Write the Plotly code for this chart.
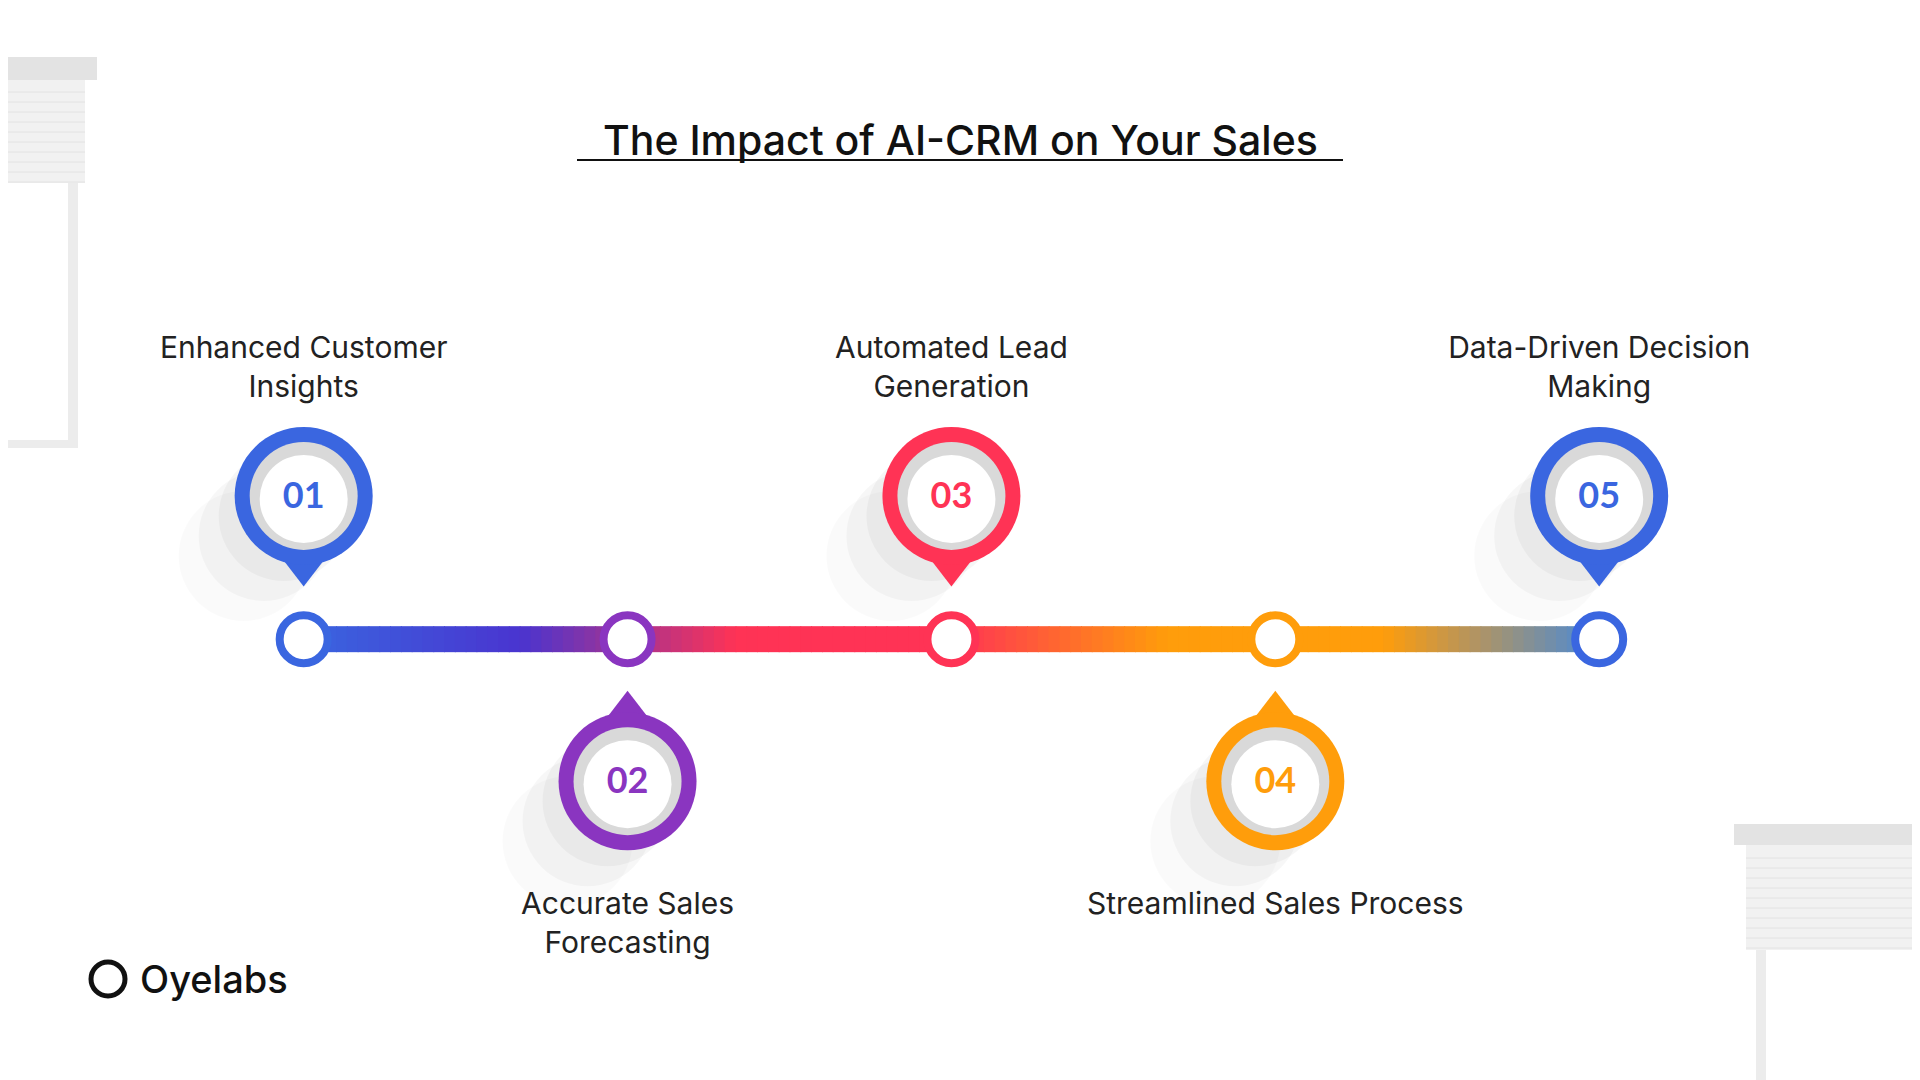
import plotly.graph_objects as go
import numpy as np

steps = ["01", "02", "03", "04", "05"]
labels = ["Enhanced Customer<br>Insights", "Accurate Sales<br>Forecasting", "Automated Lead<br>Generation",
          "Streamlined Sales Process", "Data-Driven Decision<br>Making"]
positions = [1, 2, 3, 4, 5]
sides = ["top", "bottom", "top", "bottom", "top"]
colors = ["#3a66e0", "#8a35c0", "#ff3355", "#ff9d0b", "#3a66e0"]

S = 1920 / 1568
X = {p: (248 + (p - 1) * 264.5) * S for p in positions}
LINE_Y = 522 * S
PIN_Y = {"top": 405 * S, "bottom": 638 * S}
TIP_Y = {"top": 465 * S, "bottom": 578 * S}

fig = go.Figure()

def hex2rgb(h):
    return np.array([int(h[i:i + 2], 16) for i in (1, 3, 5)], float)

grad = ["#3a66e0", "#4a35d0", "#ff3355", "#ff3355", "#ff9d0b", "#ff9d0b", "#4a8ad8"]
gx = np.linspace(X[1], X[5], len(grad))
N = 120
xs = np.linspace(X[1], X[5], N + 1)
for i in range(N):
    xm = (xs[i] + xs[i + 1]) / 2
    k = min(int((xm - gx[0]) / (gx[1] - gx[0])), len(grad) - 2)
    t = (xm - gx[k]) / (gx[1] - gx[0])
    c = (1 - t) * hex2rgb(grad[k]) + t * hex2rgb(grad[k + 1])
    fig.add_trace(go.Scatter(x=[xs[i], xs[i + 1] + 1], y=[LINE_Y, LINE_Y], mode="lines",
                             line=dict(color="rgb(%d,%d,%d)" % tuple(c), width=26), hoverinfo="skip"))

xp = [X[p] for p in positions]
for off, a in [(20, 0.035), (40, 0.03), (60, 0.02)]:
    fig.add_trace(go.Scatter(x=[x - off for x in xp], y=[PIN_Y[s] + off for s in sides], mode="markers",
                             marker=dict(size=130, color="rgba(0,0,0,%s)" % a, line=dict(width=0)), hoverinfo="skip"))
fig.add_trace(go.Scatter(x=xp, y=[LINE_Y] * 5, mode="markers",
                         marker=dict(size=48, color="white", line=dict(color=colors, width=8)), hoverinfo="skip"))
fig.add_trace(go.Scatter(x=xp, y=[TIP_Y[s] for s in sides], mode="markers",
                         marker=dict(size=34, color=colors,
                                     symbol=["triangle-down" if s == "top" else "triangle-up" for s in sides]),
                         hoverinfo="skip"))
fig.add_trace(go.Scatter(x=xp, y=[PIN_Y[s] for s in sides], mode="markers",
                         marker=dict(size=138, color=colors, line=dict(width=0)), hoverinfo="skip"))
fig.add_trace(go.Scatter(x=xp, y=[PIN_Y[s] for s in sides], mode="markers",
                         marker=dict(size=108, color="#d9d9d9", line=dict(width=0)), hoverinfo="skip"))
fig.add_trace(go.Scatter(x=xp, y=[PIN_Y[s] + 3 for s in sides], mode="markers+text",
                         text=["<b>%s</b>" % s for s in steps],
                         textfont=dict(family="Lato", size=36, color=colors),
                         marker=dict(size=88, color="white", line=dict(width=0)), hoverinfo="skip"))
top_idx = [i for i, s in enumerate(sides) if s == "top"]
bot_idx = [i for i, s in enumerate(sides) if s == "bottom"]
fig.add_trace(go.Scatter(x=[xp[i] for i in top_idx], y=[404] * len(top_idx), mode="text",
                         text=[labels[i] for i in top_idx], textposition="top center",
                         textfont=dict(family="Inter", size=30, color="#222"), hoverinfo="skip"))
fig.add_trace(go.Scatter(x=[xp[i] for i in bot_idx], y=[891] * len(bot_idx), mode="text",
                         text=[labels[i] for i in bot_idx], textposition="bottom center",
                         textfont=dict(family="Inter", size=30, color="#222"), hoverinfo="skip"))

shapes = [
    dict(type="line", x0=577, x1=1343, y0=160, y1=160, line=dict(color="#111", width=2)),
    dict(type="rect", x0=0, x1=97, y0=57, y1=80, fillcolor="#e3e3e3", line_width=0),
    dict(type="rect", x0=0, x1=85, y0=80, y1=183, fillcolor="#f1f1f1", line_width=0),
    dict(type="rect", x0=68, x1=78, y0=183, y1=448, fillcolor="#ececec", line_width=0),
    dict(type="rect", x0=0, x1=78, y0=440, y1=448, fillcolor="#ececec", line_width=0),
    dict(type="rect", x0=1734, x1=1930, y0=824, y1=845, fillcolor="#e3e3e3", line_width=0),
    dict(type="rect", x0=1746, x1=1930, y0=845, y1=950, fillcolor="#f1f1f1", line_width=0),
    dict(type="rect", x0=1756, x1=1766, y0=950, y1=1090, fillcolor="#ececec", line_width=0),
]
for yy in range(92, 183, 10):
    shapes.append(dict(type="line", x0=0, x1=85, y0=yy, y1=yy, line=dict(color="#e2e2e2", width=1)))
for yy in range(858, 950, 10):
    shapes.append(dict(type="line", x0=1746, x1=1930, y0=yy, y1=yy, line=dict(color="#e2e2e2", width=1)))
shapes.append(dict(type="circle", x0=91, x1=125, y0=962, y1=996, line=dict(color="#111", width=5)))

OFF = 8
fig.update_layout(
    width=1920, height=1080, margin=dict(l=0, r=0, t=0, b=0),
    paper_bgcolor="white", plot_bgcolor="white", showlegend=False,
    xaxis=dict(range=[OFF, 1920 + OFF], visible=False, fixedrange=True),
    yaxis=dict(range=[1080 + OFF, OFF], visible=False, fixedrange=True),
    shapes=shapes,
    annotations=[
        dict(x=960, y=140, text="The Impact of AI-CRM on Your Sales", showarrow=False,
             font=dict(family="Inter", size=41, color="#111", weight=500)),
        dict(x=138, y=979, text="Oyelabs", showarrow=False, xanchor="left",
             font=dict(family="Inter", size=38, color="#111", weight=500)),
    ],
)
fig.write_html("out.html")
